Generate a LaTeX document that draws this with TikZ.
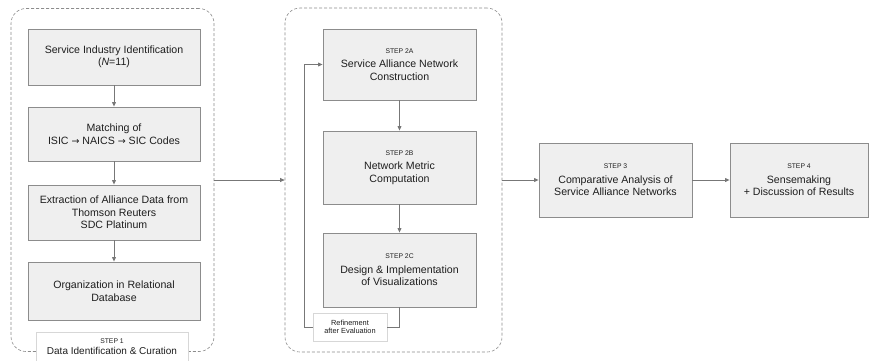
\documentclass[tikz,border=0pt]{standalone}
\usepackage{fontspec}
\setmainfont{Liberation Sans}
\newfontfamily\arrowfont{DejaVu Sans}
\usetikzlibrary{arrows.meta}
\definecolor{boxfill}{HTML}{EFEFEF}
\definecolor{boxline}{HTML}{8C8C8C}
\definecolor{linegray}{HTML}{777777}
\definecolor{txt}{HTML}{1E1E1E}
\newcommand{\stepno}[1]{{\fontsize{6.8}{8}\selectfont #1}\\[2pt]}
\newcommand{\codearrow}{{\arrowfont\fontsize{9.5}{10}\selectfont →}}

\begin{document}
\begin{tikzpicture}[x=1pt,y=-1pt,
  box/.style={draw=boxline, fill=boxfill, line width=0.8pt, align=center, inner sep=0pt, text=txt, font=\fontsize{10.6}{12.5}\selectfont},
  group/.style={draw=boxline, dash pattern=on 3pt off 2pt, rounded corners=15pt, line width=0.6pt, inner sep=0pt},
  tag/.style={draw=boxline!35, fill=white, line width=0.5pt, align=center, inner sep=0pt, text=txt},
  flow/.style={draw=linegray, line width=0.9pt, -{Triangle[length=4.5pt,width=3.8pt]}},
  link/.style={draw=linegray, line width=0.9pt}]
  \useasboundingbox (0,0) rectangle (872,360);

  % dashed groups
  \node[group, minimum width=203pt, minimum height=343pt] (step1) at (112.5,180) {};
  \node[group, minimum width=217pt, minimum height=344pt] (step2) at (393.5,180) {};

  % step 1
  \node[box, minimum width=172pt, minimum height=56pt] (s1a) at (114,57) {Service Industry Identification\\(\textit{N}=11)};
  \node[box, minimum width=172pt, minimum height=54pt] (s1b) at (114,134) {Matching of\\ISIC \codearrow{} NAICS \codearrow{} SIC Codes};
  \node[box, minimum width=172pt, minimum height=55pt] (s1c) at (114,212.5) {Extraction of Alliance Data from\\Thomson Reuters\\SDC Platinum};
  \node[box, minimum width=172pt, minimum height=58pt] (s1d) at (114,291) {Organization in Relational\\Database};
  \node[tag, minimum width=152pt, minimum height=30pt, font=\fontsize{10}{11}\selectfont] (tag1) at (112,347) {{\fontsize{6.8}{8}\selectfont STEP 1}\\Data Identification \& Curation};

  % step 2
  \node[box, minimum width=153pt, minimum height=71pt] (s2a) at (399.5,64.5) {\stepno{STEP 2A}Service Alliance Network\\Construction};
  \node[box, minimum width=153pt, minimum height=73pt] (s2b) at (399.5,167.5) {\stepno{STEP 2B}Network Metric\\Computation};
  \node[box, minimum width=153pt, minimum height=74pt] (s2c) at (399.5,270) {\stepno{STEP 2C}Design \& Implementation\\of Visualizations};
  \node[tag, minimum width=74pt, minimum height=28pt, font=\fontsize{7.4}{8.6}\selectfont] (refine) at (350,327) {Refinement\\after Evaluation};
  \coordinate (loop) at (304,327);

  % steps 3 and 4
  \node[box, minimum width=153pt, minimum height=74pt] (s3) at (615.5,180) {\stepno{STEP 3}Comparative Analysis of\\Service Alliance Networks};
  \node[box, minimum width=138pt, minimum height=74pt] (s4) at (799,180) {\stepno{STEP 4}Sensemaking\\+ Discussion of Results};

  % connectors
  \draw[flow] (s1a) -- (s1b);
  \draw[flow] (s1b) -- (s1c);
  \draw[flow] (s1c) -- (s1d);
  \draw[flow] (s2a) -- (s2b);
  \draw[flow] (s2b) -- (s2c);
  \draw[link] (s2c.south) |- (refine.east);
  \draw[flow] (refine.west) -- (loop) |- (s2a.west);
  \draw[flow] (step1.east) -- (step2.west);
  \draw[flow] (step2.east) -- (s3.west);
  \draw[flow] (s3) -- (s4);
\end{tikzpicture}
\end{document}
